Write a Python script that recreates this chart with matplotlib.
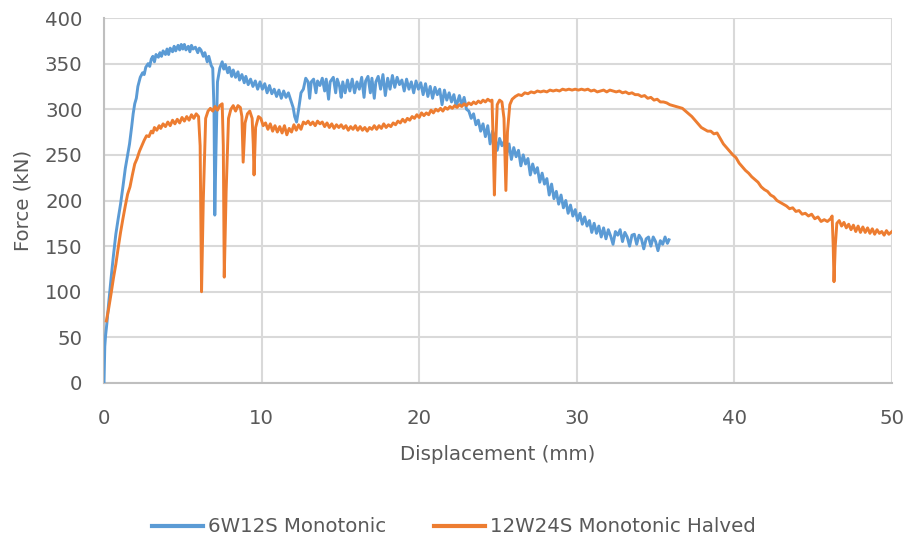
import matplotlib
matplotlib.use("Agg")
import matplotlib.pyplot as plt
import numpy as np

plt.rcParams['font.family'] = ['DejaVu Sans']

# 6W12S Monotonic: displacement (mm), force (kN)
blue_disp = [
    0.00, 0.05, 0.10, 0.18, 0.30, 0.45, 0.60, 0.75, 0.90, 1.05, 1.20, 1.35, 1.50, 1.62, 1.75, 1.85,
    1.95, 2.05, 2.15, 2.30, 2.45, 2.55, 2.65, 2.80, 2.90, 3.00, 3.10, 3.20, 3.30, 3.45, 3.55, 3.65,
    3.75, 3.90, 4.00, 4.10, 4.20, 4.35, 4.45, 4.55, 4.70, 4.80, 4.90, 5.00, 5.10, 5.20, 5.35, 5.45,
    5.55, 5.65, 5.80, 5.95, 6.05, 6.15, 6.30, 6.40, 6.55, 6.65, 6.80, 6.90, 6.98, 7.03, 7.10, 7.20,
    7.35, 7.50, 7.60, 7.70, 7.85, 7.95, 8.10, 8.20, 8.35, 8.50, 8.60, 8.75, 8.90, 9.00, 9.15, 9.30,
    9.45, 9.60, 9.75, 9.90, 10.05, 10.20, 10.35, 10.50, 10.65, 10.80, 10.95, 11.10, 11.25, 11.40,
    11.55, 11.70, 11.85, 12.00, 12.10, 12.22, 12.35, 12.50, 12.65, 12.80, 12.95, 13.05, 13.15, 13.30,
    13.45, 13.55, 13.70, 13.85, 14.00, 14.10, 14.25, 14.35, 14.55, 14.70, 14.80, 14.95, 15.05, 15.15,
    15.30, 15.45, 15.60, 15.75, 15.90, 16.05, 16.20, 16.35, 16.50, 16.60, 16.75, 16.90, 17.00, 17.15,
    17.25, 17.40, 17.55, 17.70, 17.85, 18.00, 18.15, 18.30, 18.45, 18.60, 18.75, 18.90, 19.05, 19.20,
    19.35, 19.50, 19.65, 19.80, 19.95, 20.10, 20.25, 20.40, 20.55, 20.70, 20.85, 21.00, 21.15, 21.30,
    21.45, 21.60, 21.75, 21.90, 22.05, 22.20, 22.35, 22.55, 22.70, 22.85, 23.00, 23.15, 23.30, 23.45,
    23.60, 23.75, 23.90, 24.05, 24.20, 24.35, 24.50, 24.65, 24.80, 24.95, 25.10, 25.25, 25.40, 25.55,
    25.70, 25.85, 26.00, 26.15, 26.30, 26.45, 26.60, 26.75, 26.90, 27.05, 27.20, 27.35, 27.50, 27.65,
    27.80, 27.95, 28.10, 28.25, 28.40, 28.55, 28.70, 28.85, 29.00, 29.15, 29.30, 29.45, 29.60, 29.75,
    29.90, 30.05, 30.20, 30.35, 30.50, 30.65, 30.80, 30.95, 31.10, 31.25, 31.40, 31.55, 31.70, 31.85,
    32.00, 32.15, 32.30, 32.45, 32.60, 32.75, 32.90, 33.05, 33.20, 33.35, 33.50, 33.65, 33.80, 33.95,
    34.10, 34.25, 34.40, 34.55, 34.70, 34.85, 35.00, 35.15, 35.30, 35.45, 35.60, 35.75, 35.85,
]
blue_force = [
    0, 40, 52, 65, 88, 115, 140, 163, 180, 196, 215, 235, 250, 262, 280, 295,
    306, 312, 325, 335, 340, 338, 346, 350, 347, 355, 358, 352, 360, 357, 362, 358,
    364, 360, 366, 360, 367, 363, 369, 364, 370, 365, 371, 366, 371, 365, 369, 363,
    370, 366, 368, 362, 367, 365, 358, 362, 352, 358, 348, 345, 300, 184, 250, 330,
    345, 352, 344, 349, 340, 346, 336, 343, 335, 341, 332, 338, 329, 336, 327, 333,
    325, 331, 322, 330, 322, 328, 318, 326, 317, 322, 314, 321, 312, 320,
    313, 318, 310, 302, 292, 286, 300, 318, 322, 334, 330, 312, 330, 333,
    318, 331, 326, 334, 320, 333, 311, 330, 335, 318, 333, 325, 313, 330,
    318, 332, 320, 333, 318, 330, 322, 335, 313, 331, 336, 318, 334, 312,
    330, 336, 322, 338, 315, 334, 322, 337, 324, 335, 327, 332, 320, 333,
    322, 330, 318, 331, 322, 329, 316, 328, 314, 325, 312, 324, 316, 322,
    305, 321, 310, 318, 308, 316, 303, 315, 304, 313, 300, 298, 290, 295,
    283, 288, 276, 284, 270, 282, 262, 276, 270, 255, 268, 260, 265, 250,
    262, 245, 258, 248, 255, 238, 250, 240, 246, 228, 240, 230, 236, 220,
    230, 218, 224, 206, 218, 202, 210, 196, 206, 192, 200, 186, 195, 183,
    190, 178, 186, 174, 182, 172, 178, 165, 175, 164, 172, 160, 170, 158,
    168, 161, 152, 166, 162, 168, 155, 165, 160, 150, 162, 163, 152, 162,
    158, 147, 158, 160, 150, 160, 155, 145, 156, 152, 160, 153, 157,
]

# 12W24S Monotonic Halved: displacement (mm), force (kN)
orange_disp = [
    0.15, 0.30, 0.45, 0.60, 0.75, 0.90, 1.05, 1.20, 1.35, 1.50, 1.65, 1.80, 1.95, 2.10, 2.25, 2.40,
    2.55, 2.70, 2.85, 3.00, 3.10, 3.20, 3.35, 3.50, 3.60, 3.75, 3.90, 4.05, 4.20, 4.35, 4.50, 4.65,
    4.80, 4.95, 5.10, 5.25, 5.40, 5.55, 5.70, 5.85, 6.00, 6.10, 6.19, 6.30, 6.45, 6.60, 6.75, 6.90,
    7.05, 7.20, 7.35, 7.50, 7.57, 7.63, 7.75, 7.90, 8.05, 8.20, 8.35, 8.50, 8.65, 8.75, 8.83, 8.95,
    9.10, 9.25, 9.40, 9.47, 9.52, 9.62, 9.80, 9.95, 10.10, 10.25, 10.40, 10.55, 10.70, 10.85, 11.00,
    11.15, 11.30, 11.45, 11.60, 11.75, 11.90, 12.05, 12.20, 12.35, 12.50, 12.65, 12.80, 12.95, 13.10,
    13.25, 13.40, 13.55, 13.70, 13.85, 14.00, 14.15, 14.30, 14.45, 14.60, 14.75, 14.90, 15.05, 15.20,
    15.35, 15.50, 15.65, 15.80, 15.95, 16.10, 16.25, 16.40, 16.55, 16.70, 16.85, 17.00, 17.15, 17.30,
    17.45, 17.60, 17.75, 17.90, 18.05, 18.20, 18.35, 18.50, 18.65, 18.80, 18.95, 19.10, 19.25, 19.40,
    19.55, 19.70, 19.85, 20.00, 20.15, 20.30, 20.45, 20.60, 20.75, 20.90, 21.05, 21.20, 21.35, 21.50,
    21.65, 21.80, 21.95, 22.10, 22.25, 22.40, 22.55, 22.70, 22.85, 23.00, 23.15, 23.30, 23.45, 23.60,
    23.75, 23.90, 24.05, 24.20, 24.35, 24.50, 24.62, 24.70, 24.77, 24.85, 24.95, 25.10, 25.25, 25.38,
    25.50, 25.60, 25.75, 25.90, 26.10, 26.30, 26.50, 26.70, 26.90, 27.10, 27.30, 27.50, 27.70, 27.90,
    28.10, 28.30, 28.50, 28.70, 28.90, 29.10, 29.30, 29.50, 29.70, 29.90, 30.10, 30.30, 30.50, 30.70,
    30.90, 31.10, 31.30, 31.50, 31.70, 31.90, 32.10, 32.30, 32.50, 32.70, 32.90, 33.10, 33.30, 33.50,
    33.70, 33.90, 34.10, 34.30, 34.50, 34.70, 34.90, 35.10, 35.30, 35.50, 35.70, 35.90, 36.10, 36.30,
    36.50, 36.70, 36.90, 37.10, 37.30, 37.50, 37.70, 37.90, 38.10, 38.30, 38.50, 38.70, 38.90, 39.10,
    39.30, 39.50, 39.70, 39.90, 40.10, 40.30, 40.50, 40.70, 40.90, 41.10, 41.30, 41.50, 41.70, 41.90,
    42.10, 42.30, 42.50, 42.70, 42.90, 43.10, 43.30, 43.50, 43.70, 43.90, 44.10, 44.30, 44.50, 44.70,
    44.90, 45.10, 45.30, 45.50, 45.70, 45.90, 46.10, 46.20, 46.27, 46.32, 46.40, 46.50, 46.65, 46.80,
    46.95, 47.10, 47.25, 47.40, 47.55, 47.70, 47.85, 48.00, 48.15, 48.30, 48.45, 48.60, 48.75, 48.90,
    49.05, 49.20, 49.35, 49.50, 49.65, 49.80, 50.00,
]
orange_force = [
    68, 82, 98, 115, 130, 148, 165, 180, 194, 207, 215, 228, 240, 246, 254, 260,
    266, 271, 270, 276, 274, 280, 277, 282, 279, 284, 281, 286, 282, 288, 284, 289,
    285, 291, 287, 292, 288, 294, 290, 295, 292, 260, 100, 200, 290, 298, 301, 298,
    303, 299, 304, 306, 260, 116, 210, 290, 300, 304, 298, 304, 302, 292, 242, 285,
    295, 298, 290, 262, 228, 280, 292, 290, 282, 285, 278, 284, 276, 282, 275,
    281, 274, 282, 272, 279, 275, 283, 277, 283, 278, 286, 284, 287, 283,
    286, 282, 287, 284, 286, 281, 285, 280, 284, 279, 283, 280, 283, 279,
    282, 277, 281, 278, 282, 277, 281, 277, 280, 276, 280, 278, 282, 278,
    282, 279, 284, 280, 283, 281, 285, 283, 287, 285, 289, 286, 290, 288,
    292, 290, 294, 291, 296, 293, 296, 294, 299, 296, 300, 298, 301, 298,
    302, 300, 303, 301, 304, 302, 305, 303, 306, 304, 307, 305, 308, 306,
    309, 307, 310, 308, 311, 309, 310, 260, 206, 260, 305, 310, 308, 290,
    211, 275, 305, 311, 314, 316, 315, 318, 317, 319, 318, 320, 319, 320,
    319, 321, 320, 321, 320, 322, 321, 322, 321, 322, 321, 322, 321, 322,
    320, 321, 319, 320, 321, 319, 321, 320, 319, 320, 318, 319, 317, 318,
    316, 316, 314, 315, 312, 313, 310, 311, 308, 308, 307, 305, 304, 303,
    302, 301, 298, 295, 292, 288, 284, 280, 278, 276, 276, 273, 274, 268,
    262, 258, 254, 250, 247, 241, 237, 233, 230, 226, 223, 220, 215, 212,
    210, 206, 204, 200, 198, 196, 194, 191, 192, 188, 189, 185, 186, 183,
    185, 180, 182, 177, 179, 177, 180, 183, 150, 111, 150, 175, 178, 172,
    176, 170, 174, 168, 173, 166, 172, 165, 171, 165, 170, 164, 169, 163,
    168, 164, 166, 162, 167, 163, 166,
]

x_ticks = [0, 10, 20, 30, 40, 50]
y_ticks = [0, 50, 100, 150, 200, 250, 300, 350, 400]

BLUE = '#5B9BD5'
ORANGE = '#ED7D31'
TEXT = '#595959'
GRID = '#D9D9D9'
FS = 14.2

fig = plt.figure(figsize=(9.08, 5.39), dpi=100)
ax = fig.add_axes([104 / 908, 1 - 383 / 539, (892 - 104) / 908, (383 - 18) / 539])

ax.plot(blue_disp, blue_force, color=BLUE, lw=2.1, label='6W12S Monotonic',
        solid_joinstyle='round', zorder=3)
ax.plot(orange_disp, orange_force, color=ORANGE, lw=2.1, label='12W24S Monotonic Halved',
        solid_joinstyle='round', zorder=4)

ax.set_xlim(0, 50)
ax.set_ylim(0, 400)
ax.set_xticks(x_ticks)
ax.set_yticks(y_ticks)
ax.grid(True, color=GRID, lw=1.5, zorder=0)
ax.set_axisbelow(True)
for side in ['top', 'right']:
    ax.spines[side].set_visible(False)
for side in ['left', 'bottom']:
    ax.spines[side].set_color('#BFBFBF')
    ax.spines[side].set_linewidth(1.5)
ax.tick_params(axis='both', length=0, labelsize=FS, labelcolor=TEXT)
ax.tick_params(axis='x', pad=19)
ax.tick_params(axis='y', pad=15.5)
ax.set_xlabel('Displacement (mm)', fontsize=FS, color=TEXT, labelpad=12)
ax.set_ylabel('Force (kN)', fontsize=FS, color=TEXT, labelpad=9)

leg = fig.legend(loc='center', bbox_to_anchor=(0.5, 1 - 527 / 539), ncol=2, frameon=False,
                 fontsize=FS, handlelength=2.6, handletextpad=0.25, columnspacing=2.4)
for t in leg.get_texts():
    t.set_color(TEXT)
for h in leg.get_lines():
    h.set_linewidth(3)

fig.savefig('out.png', dpi=100)
